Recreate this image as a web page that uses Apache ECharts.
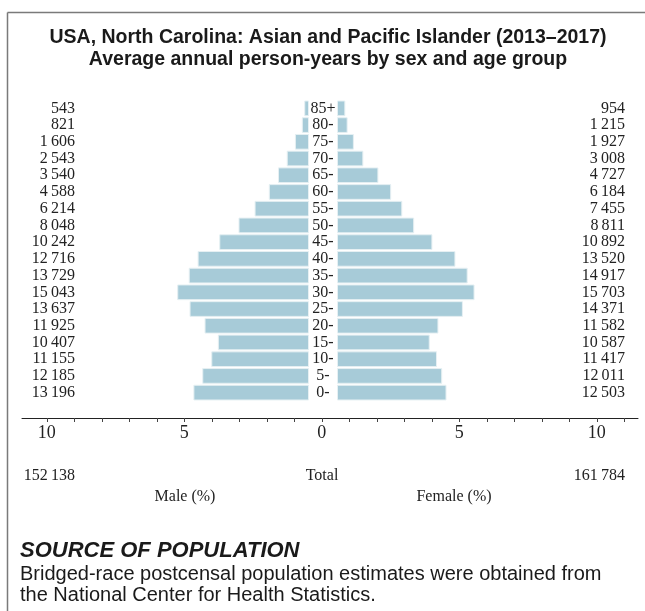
<!DOCTYPE html>
<html>
<head>
<meta charset="utf-8">
<script src="https://cdn.jsdelivr.net/npm/echarts@6/dist/echarts.min.js"></script>
<style>
  html, body { margin: 0; padding: 0; background: #fff; }
  #chart { width: 645px; height: 611px; }
</style>
</head>
<body>
<div id="chart"></div>
<script>
// age groups, bottom to top
var ageGroups = ['0-', '5-', '10-', '15-', '20-', '25-', '30-', '35-', '40-', '45-', '50-', '55-', '60-', '65-', '70-', '75-', '80-', '85+'];
var male = [13196, 12185, 11155, 10407, 11925, 13637, 15043, 13729, 12716, 10242, 8048, 6214, 4588, 3540, 2543, 1606, 821, 543];
var female = [12503, 12011, 11417, 10587, 11582, 14371, 15703, 14917, 13520, 10892, 8811, 7455, 6184, 4727, 3008, 1927, 1215, 954];
var tickValues = [-10, -9, -8, -7, -6, -5, -4, -3, -2, -1, 0, 1, 2, 3, 4, 5, 6, 7, 8, 9, 10, 11];
var tickLabels = [-10, -5, 0, 5, 10];

var sum = function (a) { return a.reduce(function (s, v) { return s + v; }, 0); };
var maleTotal = sum(male);
var femaleTotal = sum(female);
var grand = maleTotal + femaleTotal;
var pct = function (v) { return v / grand * 100; };
// 13 196 style
var fmt = function (v) { return String(v).replace(/\B(?=(\d{3})+(?!\d))/g, '\u2009'); };

var serif = 'Liberation Serif';
var serifFont = '16px "Liberation Serif"';

var myChart = echarts.init(document.getElementById('chart'));
myChart.setOption({
    animation: false,
    title: {
        text: 'USA, North Carolina: Asian and Pacific Islander (2013\u20132017)\nAverage annual person-years by sex and age group',
        left: 323,
        top: 22,
        textAlign: 'center',
        textStyle: { fontFamily: 'Liberation Sans', fontWeight: 'bold', fontSize: 19.5, lineHeight: 22, color: '#1a1a1a' }
    },
    grid: [
        { left: 34, width: 275, top: 100, height: 301 },
        { left: 337, width: 275, top: 100, height: 301 },
        { left: 22, width: 616, top: 417, height: 1 }
    ],
    xAxis: [
        { gridIndex: 0, type: 'value', inverse: true, min: 0, max: 10, show: false },
        { gridIndex: 1, type: 'value', min: 0, max: 10, show: false },
        {
            gridIndex: 2, type: 'value', min: -10.9, max: 11.5, position: 'bottom',
            splitLine: { show: false },
            axisLine: { show: true, lineStyle: { color: '#222', width: 1 } },
            axisTick: { show: true, length: 4, customValues: tickValues, lineStyle: { color: '#444' } },
            axisLabel: {
                customValues: tickLabels, margin: 6,
                formatter: function (v) { return Math.abs(v); },
                fontFamily: serif, fontSize: 18, color: '#222'
            }
        }
    ],
    yAxis: [
        {
            gridIndex: 0, type: 'category', data: ageGroups, position: 'left',
            axisLine: { show: false }, axisTick: { show: false },
            axisLabel: {
                interval: 0, margin: -41, align: 'right',
                formatter: function (v, i) { return fmt(male[i]); },
                fontFamily: serif, fontSize: 16, color: '#222'
            }
        },
        {
            gridIndex: 1, type: 'category', data: ageGroups, position: 'left',
            axisLine: { show: false }, axisTick: { show: false },
            axisLabel: { interval: 0, margin: 14, align: 'center', fontFamily: serif, fontSize: 16, color: '#222' }
        },
        {
            gridIndex: 1, type: 'category', data: ageGroups, position: 'right',
            axisLine: { show: false }, axisTick: { show: false },
            axisLabel: {
                interval: 0, margin: 13, align: 'right',
                formatter: function (v, i) { return fmt(female[i]); },
                fontFamily: serif, fontSize: 16, color: '#222'
            }
        },
        { gridIndex: 2, type: 'value', show: false }
    ],
    series: [
        {
            name: 'Male', type: 'bar', xAxisIndex: 0, yAxisIndex: 0,
            data: male.map(pct), barCategoryGap: '6%',
            itemStyle: { color: '#a7cbd8', borderColor: '#e6f0f3', borderWidth: 1 }
        },
        {
            name: 'Female', type: 'bar', xAxisIndex: 1, yAxisIndex: 1,
            data: female.map(pct), barCategoryGap: '6%',
            itemStyle: { color: '#a7cbd8', borderColor: '#e6f0f3', borderWidth: 1 }
        }
    ],
    graphic: [
        // frame
        { type: 'line', shape: { x1: 7.5, y1: 12.5, x2: 645, y2: 12.5 }, style: { stroke: '#7a7a7a', lineWidth: 1.5 } },
        { type: 'line', shape: { x1: 7.5, y1: 12.5, x2: 7.5, y2: 611 }, style: { stroke: '#7a7a7a', lineWidth: 1.5 } },
        // totals
        { type: 'text', x: 75, y: 476, style: { text: fmt(maleTotal), align: 'right', verticalAlign: 'middle', font: serifFont, fill: '#222' } },
        { type: 'text', x: 322, y: 476, style: { text: 'Total', align: 'center', verticalAlign: 'middle', font: serifFont, fill: '#222' } },
        { type: 'text', x: 625, y: 476, style: { text: fmt(femaleTotal), align: 'right', verticalAlign: 'middle', font: serifFont, fill: '#222' } },
        { type: 'text', x: 185, y: 497, style: { text: 'Male (%)', align: 'center', verticalAlign: 'middle', font: serifFont, fill: '#222' } },
        { type: 'text', x: 454, y: 497, style: { text: 'Female (%)', align: 'center', verticalAlign: 'middle', font: serifFont, fill: '#222' } },
        // source
        { type: 'text', x: 20, y: 551, style: { text: 'SOURCE OF POPULATION', align: 'left', verticalAlign: 'middle', font: 'italic bold 22px "Liberation Sans"', fill: '#1a1a1a' } },
        { type: 'text', x: 20, y: 574, style: { text: 'Bridged-race postcensal population estimates were obtained from', align: 'left', verticalAlign: 'middle', font: '20px "Liberation Sans"', fill: '#1a1a1a' } },
        { type: 'text', x: 20, y: 595, style: { text: 'the National Center for Health Statistics.', align: 'left', verticalAlign: 'middle', font: '20px "Liberation Sans"', fill: '#1a1a1a' } }
    ]
});
</script>
</body>
</html>
